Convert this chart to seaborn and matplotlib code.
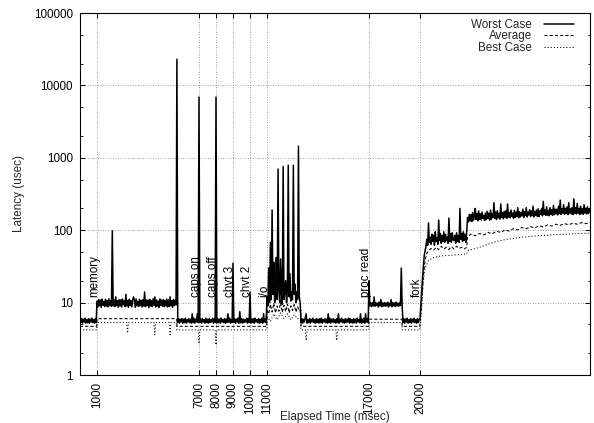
import matplotlib
matplotlib.use("Agg")
import numpy as np
import pandas as pd
import matplotlib.pyplot as plt
import seaborn as sns
from matplotlib.ticker import FixedLocator, LogLocator, FuncFormatter, NullFormatter

# events marked on the x axis (msec) and their labels
event_ms = [1000, 7000, 8000, 9000, 10000, 11000, 17000, 20000]
event_names = ["memory", "caps on", "caps off", "chvt 3", "chvt 2", "i/o", "proc read", "fork"]

# worst case latency (usec), one reading every 50 msec; one block per second
sample_ms = 50
worst_blocks = [
    [6.8, 5.3, 6.0, 5.2, 5.9, 5.4, 6.1, 5.2, 5.8, 5.3, 6.0, 5.2, 5.9, 5.4, 6.1, 5.3, 5.8, 5.2, 6.0, 5.3],  # 0
    [10.5, 8.7, 11.0, 9.0, 10.8, 8.6, 11.2, 9.2, 10.4, 8.8, 11.1, 9.0, 10.7, 8.7, 11.3, 9.1, 10.6, 8.9, 98.0, 9.0],  # 1000
    [10.8, 8.8, 12.0, 9.1, 10.6, 8.6, 11.0, 9.0, 10.9, 8.7, 11.2, 9.3, 10.5, 8.8, 13.0, 9.0, 10.7, 8.6, 11.1, 9.2],  # 2000
    [10.6, 8.7, 11.0, 12.0, 10.8, 8.6, 11.2, 9.0, 10.4, 8.9, 11.1, 9.1, 10.7, 8.7, 11.0, 9.0, 14.0, 8.8, 10.9, 9.1],  # 3000
    [10.8, 8.5, 11.1, 9.0, 10.6, 8.8, 11.3, 9.2, 12.0, 8.7, 10.9, 9.0, 10.5, 8.6, 11.2, 9.1, 10.8, 8.9, 11.0, 8.8],  # 4000
    [10.7, 9.0, 11.2, 8.7, 10.9, 8.8, 12.0, 9.0, 10.6, 8.6, 11.0, 9.1, 10.8, 9.3, 23000.0, 5.3, 6.0, 5.2, 5.9, 5.4],  # 5000
    [6.0, 5.2, 5.9, 5.3, 6.1, 5.2, 5.8, 5.4, 6.0, 5.3, 5.9, 5.2, 7.0, 5.3, 6.1, 5.2, 5.9, 5.4, 7.0, 5.3],  # 6000
    [6900.0, 5.3, 5.9, 5.2, 6.0, 5.4, 5.8, 5.2, 6.1, 5.3, 5.9, 5.2, 6.0, 5.3, 5.8, 5.4, 6.1, 5.2, 5.9, 5.3],  # 7000
    [6900.0, 5.2, 6.0, 5.3, 5.9, 5.2, 6.1, 5.4, 5.8, 5.3, 6.0, 5.2, 5.9, 5.3, 7.0, 5.4, 6.1, 5.2, 5.8, 5.3],  # 8000
    [35.0, 5.3, 6.0, 5.2, 5.9, 5.4, 6.1, 5.2, 7.5, 5.3, 6.0, 5.2, 5.9, 5.3, 5.8, 5.4, 6.1, 5.2, 6.0, 5.3],  # 9000
    [14.0, 5.2, 5.9, 5.3, 6.0, 5.2, 6.1, 5.4, 5.8, 5.3, 6.0, 5.2, 5.9, 5.3, 6.1, 5.2, 7.0, 5.4, 6.0, 5.3],  # 10000
    [12.0, 9.0, 30.0, 10.0, 68.0, 11.0, 190.0, 13.0, 36.0, 10.0, 15.0, 42.0, 11.0, 700.0, 14.0, 10.0, 40.0, 13.0, 9.5, 760.0],  # 11000
    [11.0, 14.0, 20.0, 10.0, 15.0, 790.0, 12.0, 25.0, 10.5, 14.0, 11.0, 790.0, 13.0, 18.0, 10.0, 14.0, 11.0, 1450.0, 12.0, 10.0],  # 12000
    [5.3, 6.0, 5.2, 5.9, 5.4, 6.1, 7.0, 5.2, 5.8, 5.3, 6.0, 5.2, 5.9, 5.4, 6.1, 5.3, 5.8, 5.2, 6.0, 5.3],  # 13000
    [5.9, 5.2, 6.0, 5.3, 6.1, 5.2, 5.8, 5.4, 6.0, 5.3, 5.9, 5.2, 7.0, 5.3, 6.1, 5.2, 5.9, 5.4, 6.0, 5.3],  # 14000
    [5.8, 5.2, 6.0, 5.3, 7.0, 5.2, 5.9, 5.4, 6.1, 5.3, 5.8, 5.2, 6.0, 5.3, 5.9, 5.4, 6.1, 5.2, 6.0, 5.3],  # 15000
    [5.8, 5.2, 6.0, 5.3, 5.9, 5.2, 6.1, 5.4, 5.8, 5.3, 7.0, 5.2, 5.9, 5.3, 6.1, 5.2, 7.0, 5.4, 6.0, 5.3],  # 16000
    [20.0, 9.0, 10.0, 8.8, 9.9, 9.0, 12.0, 8.9, 10.0, 9.1, 9.8, 8.7, 10.1, 9.0, 11.0, 8.8, 9.9, 9.0, 10.0, 8.9],  # 17000
    [9.9, 9.0, 10.1, 8.7, 9.8, 9.1, 11.0, 8.8, 10.0, 9.0, 9.9, 8.8, 10.2, 9.0, 9.8, 8.9, 10.0, 9.1, 30.0, 9.0],  # 18000
    [5.3, 6.0, 5.2, 5.9, 5.4, 6.1, 5.2, 5.8, 5.3, 6.0, 5.2, 5.9, 5.4, 6.1, 5.3, 5.8, 5.2, 6.0, 5.3, 5.9],  # 19000
    [6.0, 9.0, 14.0, 22.0, 32.0, 45.0, 52.0, 60.0, 75.0, 62.0, 126.0, 68.0, 80.0, 64.0, 88.0, 70.0, 85.0, 62.0, 95.0, 70.0],  # 20000
    [78.0, 64.0, 138.0, 72.0, 90.0, 66.0, 84.0, 70.0, 95.0, 68.0, 88.0, 72.0, 80.0, 66.0, 147.0, 70.0, 90.0, 68.0, 92.0, 74.0],  # 21000
    [72.0, 85.0, 66.0, 92.0, 70.0, 84.0, 68.0, 200.0, 75.0, 90.0, 70.0, 95.0, 72.0, 88.0, 68.0, 98.0, 150.0, 130.0, 165.0, 135.0],  # 22000
    [165.0, 132.0, 175.0, 138.0, 160.0, 200.0, 140.0, 170.0, 135.0, 185.0, 142.0, 168.0, 138.0, 178.0, 145.0, 160.0, 136.0, 172.0, 140.0, 182.0],  # 23000
    [145.0, 172.0, 138.0, 190.0, 142.0, 168.0, 150.0, 240.0, 145.0, 178.0, 140.0, 185.0, 148.0, 170.0, 142.0, 230.0, 150.0, 175.0, 144.0, 182.0],  # 24000
    [150.0, 185.0, 145.0, 230.0, 152.0, 175.0, 148.0, 190.0, 155.0, 172.0, 146.0, 188.0, 150.0, 178.0, 154.0, 205.0, 148.0, 180.0, 152.0, 176.0],  # 25000
    [158.0, 195.0, 150.0, 180.0, 160.0, 205.0, 152.0, 178.0, 162.0, 192.0, 155.0, 185.0, 158.0, 215.0, 152.0, 182.0, 160.0, 190.0, 155.0, 198.0],  # 26000
    [155.0, 185.0, 165.0, 200.0, 158.0, 250.0, 165.0, 190.0, 160.0, 210.0, 162.0, 188.0, 158.0, 205.0, 166.0, 192.0, 160.0, 220.0, 164.0, 195.0],  # 27000
    [168.0, 195.0, 162.0, 215.0, 170.0, 260.0, 165.0, 198.0, 172.0, 225.0, 166.0, 200.0, 170.0, 210.0, 164.0, 240.0, 172.0, 198.0, 168.0, 205.0],  # 28000
    [165.0, 270.0, 170.0, 205.0, 168.0, 235.0, 172.0, 200.0, 165.0, 215.0, 170.0, 198.0, 166.0, 225.0, 172.0, 202.0, 168.0, 210.0, 170.0, 200.0],  # 29000
    [175.0],  # 30000
]
assert all(len(b) == 20 for b in worst_blocks[:-1])
worst_us = [v for b in worst_blocks for v in b]

# average latency breakpoints
avg_ms = [0, 990, 1000, 5690, 5700, 10990,
          11000, 11100, 11200, 11300, 11400, 11500, 11600, 11700, 11800, 11900,
          12000, 12100, 12200, 12300, 12400, 12500, 12600, 12700, 12800, 12900,
          12990, 13000, 16990, 17000, 18940, 18950, 19990, 20000,
          20100, 20200, 20300, 20400, 20500, 20650, 20800, 20950, 21100, 21250,
          21400, 21550, 21700, 21850, 22000, 22150, 22300, 22450, 22600, 22750,
          22800, 23000, 23250, 23500, 23750, 24000, 24250, 24500, 24750, 25000,
          25250, 25500, 25750, 26000, 26250, 26500, 26750, 27000, 27250, 27500,
          27750, 28000, 28250, 28500, 28750, 29000, 29250, 29500, 29750, 30000]
avg_us = [4.7, 4.7, 6.0, 6.0, 4.7, 4.7,
          8.0, 7.0, 9.5, 7.4, 9.8, 7.2, 9.0, 7.6, 10.0, 7.3,
          9.2, 7.5, 9.6, 7.2, 9.0, 7.8, 9.4, 7.4, 8.8, 7.6,
          8.0, 4.7, 4.7, 5.9, 5.9, 4.7, 4.7, 5.0,
          10.0, 24.0, 38.0, 48.0, 52.0, 56.0, 53.0, 58.0, 54.0, 60.0,
          55.0, 58.0, 54.0, 59.0, 55.0, 60.0, 56.0, 58.0, 55.0, 58.0,
          82.0, 88.0, 84.0, 90.0, 86.0, 93.0, 89.0, 97.0, 93.0, 101.0,
          97.0, 105.0, 101.0, 109.0, 105.0, 112.0, 108.0, 115.0, 111.0, 118.0,
          114.0, 121.0, 117.0, 123.0, 119.0, 125.0, 121.0, 127.0, 123.0, 128.0]

# best case latency breakpoints
best_ms = [0, 990, 1000, 2750, 2800, 2850, 4350, 4400, 4450, 5250, 5300, 5350,
           5690, 5700, 6950, 7000, 7050, 7950, 8000, 8050, 10990,
           11000, 11200, 11400, 11600, 11800, 12000, 12200, 12400, 12600, 12800,
           12990, 13000, 13250, 13300, 13350, 15050, 15100, 15150, 16990,
           17000, 18940, 18950, 19990, 20000, 20100, 20200, 20300, 20500,
           20800, 21200, 21800, 22300, 22750, 22800, 23500, 24000, 24500,
           25000, 25500, 26000, 27000, 28000, 29000, 30000]
best_us = [4.2, 4.2, 5.3, 5.3, 3.8, 5.3, 5.3, 3.6, 5.3, 5.3, 3.6, 5.3,
           5.3, 4.2, 4.2, 2.7, 4.2, 4.2, 2.6, 4.2, 4.2,
           6.5, 5.5, 7.0, 5.8, 7.2, 6.0, 7.0, 5.8, 6.8, 6.0,
           6.5, 4.2, 4.2, 3.0, 4.2, 4.2, 3.0, 4.2, 4.2,
           5.3, 5.3, 4.2, 4.2, 4.5, 9.0, 20.0, 30.0, 38.0,
           42.0, 44.0, 45.0, 46.0, 47.0, 52.0, 58.0, 64.0, 70.0,
           74.0, 77.0, 80.0, 84.0, 87.0, 89.0, 91.0]

worst = pd.DataFrame({"ms": np.arange(len(worst_us)) * sample_ms, "us": worst_us})
avg = pd.DataFrame({"ms": avg_ms, "us": avg_us})
best = pd.DataFrame({"ms": best_ms, "us": best_us})

sns.set_theme(style="ticks")
plt.rcParams["font.family"] = ["Liberation Sans", "DejaVu Sans"]
fs = 8.4

fig = plt.figure(figsize=(5.94, 4.23), dpi=100)
ax = fig.add_axes([80 / 594, 1 - 375 / 423, 510 / 594, 362 / 423])

sns.lineplot(data=worst, x="ms", y="us", ax=ax, color="black", lw=1.1,
             estimator=None, sort=False, label="Worst Case")
sns.lineplot(data=avg, x="ms", y="us", ax=ax, color="black", lw=0.75,
             linestyle=(0, (3, 2)), estimator=None, sort=False, label="Average")
sns.lineplot(data=best, x="ms", y="us", ax=ax, color="black", lw=0.75,
             linestyle=(0, (1, 2)), estimator=None, sort=False, label="Best Case")

ax.set_yscale("log")
ax.set_xlim(0, 30000)
ax.set_ylim(1, 100000)

ax.xaxis.set_major_locator(FixedLocator(event_ms))
ax.set_xticklabels([str(t) for t in event_ms], rotation=90)
ax.yaxis.set_major_locator(FixedLocator([1, 10, 100, 1000, 10000, 100000]))
ax.yaxis.set_major_formatter(FuncFormatter(lambda v, p: f"{int(round(v))}"))
ax.yaxis.set_minor_locator(LogLocator(base=10, subs=(2.0, 5.0)))
ax.yaxis.set_minor_formatter(NullFormatter())

ax.tick_params(which="both", direction="in", top=True, right=True,
               color="black", labelsize=fs, labelcolor="black")
ax.tick_params(which="major", length=3.6, width=0.7, pad=5)
ax.tick_params(which="minor", length=1.8, width=0.6)
ax.grid(True, which="major", color="0.5", linestyle=(0, (1, 2)), linewidth=0.6)
for sp in ax.spines.values():
    sp.set_color("black")
    sp.set_linewidth(0.8)

ax.set_xlabel("")
ax.set_ylabel("")
fig.text(335 / 594, 1 - 417 / 423, "Elapsed Time (msec)", ha="center", va="center", fontsize=fs)
fig.text(19 / 594, 1 - 194 / 423, "Latency (usec)", rotation=90, ha="center", va="center", fontsize=fs)

# event labels sit on their grid line, starting just above 10 usec
for t, name in zip(event_ms, event_names):
    ax.text(t, 12, name, rotation=90, rotation_mode="anchor", ha="left",
            va="baseline", fontsize=fs, color="black")

ax.legend(loc="upper right", bbox_to_anchor=(574 / 594, 1 - 19 / 423),
          bbox_transform=fig.transFigure, frameon=False, markerfirst=False,
          handlelength=2.6, handletextpad=1.0, labelspacing=-0.06,
          borderpad=0, borderaxespad=0, fontsize=fs)

fig.savefig("out.png", dpi=100)
